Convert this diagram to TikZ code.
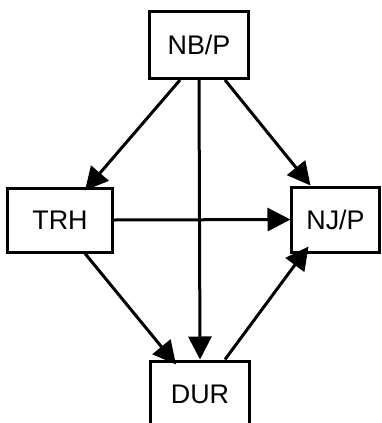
\documentclass[tikz,border=0pt]{standalone}
\usepackage{fontspec}
\setmainfont{Liberation Sans}
\usetikzlibrary{arrows.meta}
\begin{document}
\begin{tikzpicture}[x=1bp,y=-1bp,
    box/.style={draw, line width=3bp, inner sep=0pt, font=\fontsize{27}{32}\selectfont},
    link/.style={-{Triangle[length=23bp,width=23bp]}, line width=3bp}]
        \useasboundingbox (0,0) rectangle (382,423);

        \node[box, minimum width=98bp, minimum height=67bp] (nbp) at (199,45) {NB/P};
        \node[box, minimum width=104bp, minimum height=64bp] (trh) at (60,220) {TRH};
        \node[box, minimum width=87bp, minimum height=65bp] (njp) at (335.5,219.5) {NJ/P};
        \node[box, minimum width=98bp, minimum height=66bp] (dur) at (200,394) {DUR};

        \draw[link] ([xshift=-19bp]nbp.south) -- ([xshift=25bp,yshift=-4bp]trh.north);
        \draw[link] (nbp.south) -- (dur.north);
        \draw[link] ([xshift=26bp]nbp.south) -- ([xshift=-25bp]njp.north);
        \draw[link] (trh.east) -- (njp.west);
        \draw[link] ([xshift=25bp]trh.south) -- ([xshift=-24bp,yshift=-5bp]dur.north);
        \draw[link] ([xshift=25bp]dur.north) -- ([xshift=-27bp,yshift=7bp]njp.south);
    \end{tikzpicture}
\end{document}
